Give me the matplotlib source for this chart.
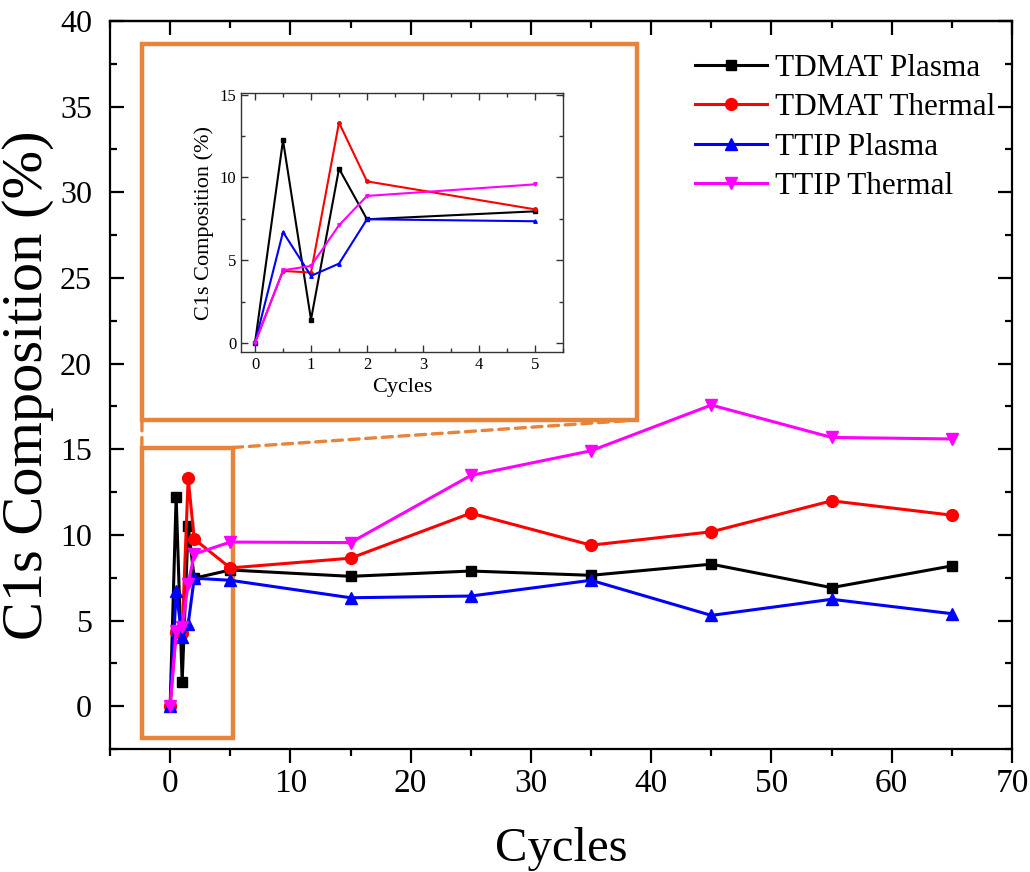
import matplotlib
matplotlib.use("Agg")
import matplotlib.pyplot as plt
from matplotlib.patches import Rectangle, ConnectionPatch
from matplotlib.ticker import MultipleLocator

plt.rcParams['font.family'] = ['Liberation Serif', 'DejaVu Serif']

cycles = [0, 0.5, 1, 1.5, 2, 5, 15, 25, 35, 45, 55, 65]
tdmat_plasma = [0, 12.24, 1.41, 10.53, 7.47, 7.95, 7.58, 7.89, 7.64, 8.29, 6.92, 8.19]
tdmat_thermal = [0, 4.35, 4.25, 13.31, 9.76, 8.07, 8.64, 11.27, 9.40, 10.18, 11.99, 11.15]
ttip_plasma = [0, 6.70, 4.05, 4.79, 7.47, 7.35, 6.33, 6.43, 7.35, 5.30, 6.24, 5.40]
ttip_thermal = [0, 4.39, 4.65, 7.11, 8.88, 9.58, 9.55, 13.47, 14.91, 17.58, 15.69, 15.60]
series_names = ["TDMAT Plasma", "TDMAT Thermal", "TTIP Plasma", "TTIP Thermal"]
inset_n = 6  # inset shows the early cycles 0..5

series = [tdmat_plasma, tdmat_thermal, ttip_plasma, ttip_thermal]
colors = ["#000000", "#FF0000", "#0000FF", "#FF00FF"]
markers = ["s", "o", "^", "v"]
msizes = [7.5, 8.5, 9, 9]
orange = "#E8833A"

W, H = 1030, 872
fig = plt.figure(figsize=(W / 100, H / 100), dpi=100)

def fx(px):
    return px / W

def fy(py):
    return 1 - py / H

ax = fig.add_axes([fx(110), fy(749), fx(1012) - fx(110), fy(21) - fy(749)])
for ys, c, m, ms, name in zip(series, colors, markers, msizes, series_names):
    ax.plot(cycles, ys, color=c, marker=m, markersize=ms, linewidth=2.2,
            label=name, zorder=3)

ax.set_xlim(-5, 70)
ax.set_ylim(-2.5, 40)
ax.xaxis.set_major_locator(MultipleLocator(10))
ax.xaxis.set_minor_locator(MultipleLocator(5))
ax.yaxis.set_major_locator(MultipleLocator(5))
ax.yaxis.set_minor_locator(MultipleLocator(2.5))
for s in ax.spines.values():
    s.set_linewidth(1.6)
ax.tick_params(axis='x', which='both', direction='out', bottom=True, top=False,
               width=1.6, labelsize=24, pad=4)
ax.tick_params(axis='x', which='major', length=10)
ax.tick_params(axis='x', which='minor', length=5)
ax.tick_params(axis='y', which='both', direction='in', left=True, right=True,
               width=1.6, labelsize=23, pad=13)
ax.tick_params(axis='y', which='major', length=10)
ax.tick_params(axis='y', which='minor', length=5)
# top ticks pointing inward
axt = ax.secondary_xaxis('top')
axt.xaxis.set_major_locator(MultipleLocator(10))
axt.xaxis.set_minor_locator(MultipleLocator(5))
axt.tick_params(axis='x', which='both', direction='in', width=1.6, labeltop=False)
axt.tick_params(axis='x', which='major', length=10)
axt.tick_params(axis='x', which='minor', length=5)
axt.spines['top'].set_linewidth(1.6)

ax.set_xlabel("Cycles", fontsize=35, labelpad=20)
ax.set_ylabel("C1s Composition (%)", fontsize=42, labelpad=4)

leg = ax.legend(loc='upper left', bbox_to_anchor=(fx(695), fy(54)),
                bbox_transform=fig.transFigure, frameon=False, fontsize=22.5,
                handlelength=2.3, handletextpad=0.25, labelspacing=0.33,
                borderpad=0, borderaxespad=0)

# small zoom rectangle in data coords
rx0, rx1, ry0, ry1 = -2.35, 5.2, -1.85, 15.1
ax.add_patch(Rectangle((rx0, ry0), rx1 - rx0, ry1 - ry0, fill=False,
                       edgecolor=orange, linewidth=3.2, zorder=2))

# big inset frame in figure coords
bx0, bx1, by0, by1 = fx(142), fx(637), fy(420), fy(44)
fig.patches.append(Rectangle((bx0, by0), bx1 - bx0, by1 - by0, fill=False,
                             edgecolor=orange, linewidth=3.2,
                             transform=fig.transFigure, zorder=5))

for (dx, dy), (fx_, fy_) in [((rx0, ry1), (bx0, by0)), ((rx1, ry1), (bx1, by0))]:
    cp = ConnectionPatch(xyA=(dx, dy), coordsA=ax.transData,
                         xyB=(fx_, fy_), coordsB=fig.transFigure,
                         color=orange, linewidth=2.4, linestyle=(0, (3, 2)),
                         zorder=4)
    fig.add_artist(cp)

# inset axes
axi = fig.add_axes([fx(241), fy(352), fx(563) - fx(241), fy(93) - fy(352)])
for ys, c, m in zip(series, colors, markers):
    axi.plot(cycles[:inset_n], ys[:inset_n], color=c, marker=m, markersize=2.5,
             linewidth=1.5)
axi.set_xlim(-0.25, 5.5)
axi.set_ylim(-0.55, 15.1)
axi.xaxis.set_major_locator(MultipleLocator(1))
axi.xaxis.set_minor_locator(MultipleLocator(0.5))
axi.yaxis.set_major_locator(MultipleLocator(5))
axi.yaxis.set_minor_locator(MultipleLocator(2.5))
for s in axi.spines.values():
    s.set_linewidth(1.0)
    s.set_color('#333333')
axi.tick_params(which='both', direction='in', top=True, right=True,
                width=1.0, color='#333333', labelsize=12)
axi.tick_params(which='major', length=5)
axi.tick_params(which='minor', length=3)
axi.set_xlabel("Cycles", fontsize=16, labelpad=4)
axi.set_ylabel("C1s Composition (%)", fontsize=16, labelpad=4)

fig.savefig("out.png", dpi=100)
